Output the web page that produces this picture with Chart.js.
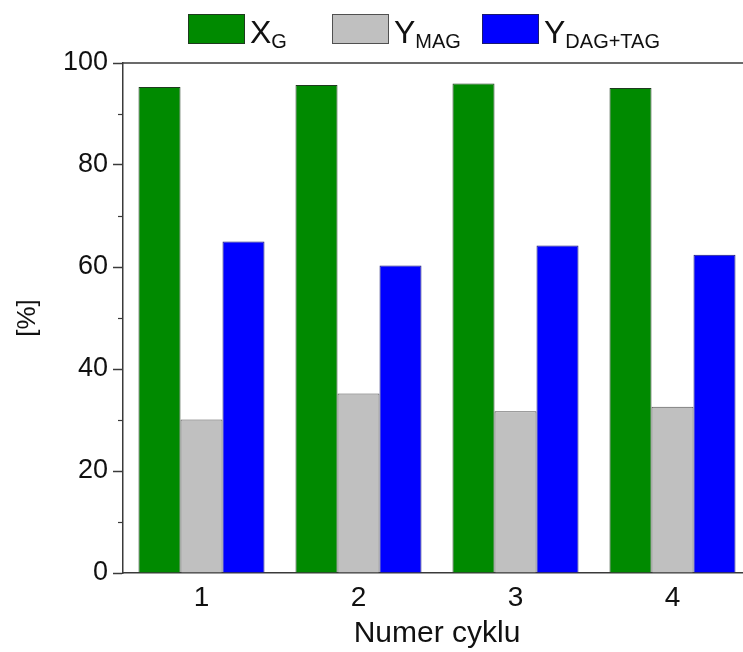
<!DOCTYPE html>
<html>
<head>
<meta charset="utf-8">
<script src="https://cdn.jsdelivr.net/npm/chart.js@4.4.1/dist/chart.umd.min.js"></script>
<style>
  html, body { margin: 0; padding: 0; background: #fff; overflow: hidden; }
  #wrap { position: relative; width: 760px; height: 652px; }
</style>
</head>
<body>
<div id="wrap"><canvas id="chart" width="760" height="652"></canvas></div>
<script>
// data
const categories = ["1", "2", "3", "4"];
const xG = [95.3, 95.7, 96.0, 95.1];
const yMAG = [30.1, 35.2, 31.7, 32.6];
const yDAGTAG = [65.0, 60.3, 64.2, 62.4];
const legendMain = ["X", "Y", "Y"];
const legendSub = ["G", "MAG", "DAG+TAG"];
const yTicks = [0, 20, 40, 60, 80, 100];
const yMinorTicks = [10, 30, 50, 70, 90];

const FONT = "'Liberation Sans', Arial, sans-serif";
const AXIS = "#3a3a3a";

// legend with subscripts + minor ticks + top frame line
const extrasPlugin = {
    id: "extras",
    afterDraw(chart) {
        const ctx = chart.ctx;
        const y = chart.scales.y;
        const area = chart.chartArea;
        ctx.save();

        // top frame line
        ctx.strokeStyle = AXIS;
        ctx.lineWidth = 1.5;
        ctx.beginPath();
        ctx.moveTo(area.left, area.top);
        ctx.lineTo(chart.width, area.top);
        ctx.stroke();

        // minor ticks
        ctx.lineWidth = 1.2;
        yMinorTicks.forEach((v) => {
            const py = Math.round(y.getPixelForValue(v)) + 0.5;
            ctx.beginPath();
            ctx.moveTo(area.left - 5, py);
            ctx.lineTo(area.left, py);
            ctx.stroke();
        });

        // legend
        const boxX = [188, 332, 482];
        chart.data.datasets.forEach((ds, i) => {
            ctx.fillStyle = ds.backgroundColor;
            ctx.fillRect(boxX[i], 14, 56, 29);
            ctx.strokeStyle = ds.borderColor;
            ctx.lineWidth = 1;
            ctx.strokeRect(boxX[i] + 0.5, 14.5, 56, 29);

            ctx.fillStyle = "#111";
            ctx.textBaseline = "alphabetic";
            ctx.textAlign = "left";
            ctx.font = "32px " + FONT;
            const tx = boxX[i] + 62;
            ctx.fillText(legendMain[i], tx, 43);
            const w = ctx.measureText(legendMain[i]).width;
            ctx.font = "20px " + FONT;
            ctx.fillText(legendSub[i], tx + w, 48);
        });
        ctx.restore();
    }
};

const ctx = document.getElementById("chart").getContext("2d");
new Chart(ctx, {
    type: "bar",
    data: {
        labels: categories,
        datasets: [
            { label: "XG", data: xG, backgroundColor: "#008a00", borderColor: "#1f3a1f" },
            { label: "YMAG", data: yMAG, backgroundColor: "#c0c0c0", borderColor: "#505050" },
            { label: "YDAG+TAG", data: yDAGTAG, backgroundColor: "#0000ff", borderColor: "#1a1a70" },
        ],
    },
    options: {
        responsive: false,
        animation: false,
        devicePixelRatio: 1,
        layout: { padding: { top: 63, right: 9, left: 0, bottom: 0 } },
        datasets: {
            bar: {
                borderWidth: 1,
                categoryPercentage: 0.8025,
                barPercentage: 1.0,
            },
        },
        plugins: {
            legend: { display: false },
            tooltip: { enabled: false },
        },
        scales: {
            x: {
                grid: { display: false, drawTicks: false },
                border: { display: true, color: AXIS, width: 1.5 },
                ticks: {
                    color: "#111",
                    font: { family: FONT, size: 28 },
                    padding: 8,
                },
                title: {
                    display: true,
                    text: "Numer cyklu",
                    color: "#111",
                    font: { family: FONT, size: 30 },
                    padding: { top: 0, bottom: 0 },
                },
                afterFit(scale) { scale.height = 79; },
            },
            y: {
                min: 0,
                max: 100,
                afterBuildTicks(scale) {
                    scale.ticks = yTicks.map((v) => ({ value: v }));
                },
                grid: {
                    drawOnChartArea: false,
                    drawTicks: true,
                    tickLength: 10,
                    tickColor: AXIS,
                    tickWidth: 1.5,
                },
                border: { display: true, color: AXIS, width: 1.5 },
                ticks: {
                    color: "#111",
                    font: { family: FONT, size: 27 },
                    padding: 5,
                },
                title: {
                    display: true,
                    text: "[%]",
                    color: "#111",
                    font: { family: FONT, size: 26 },
                    padding: { top: 12, bottom: 0 },
                },
                afterFit(scale) { scale.width = 123; },
            },
        },
    },
    plugins: [extrasPlugin],
});
</script>
</body>
</html>
